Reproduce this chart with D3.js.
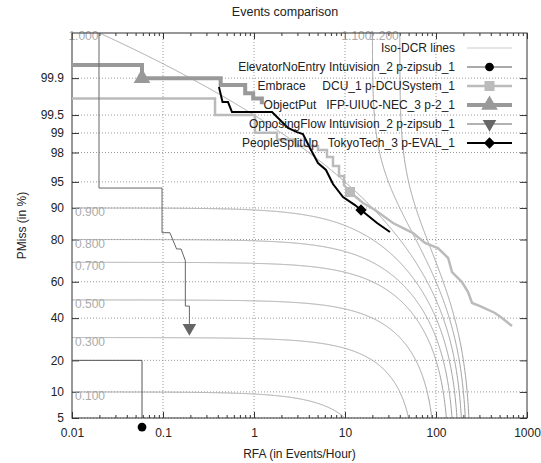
<!DOCTYPE html>
<html>
<head>
<meta charset="utf-8">
<script src="https://cdn.jsdelivr.net/npm/d3@7"></script>
<style>
  body { margin: 0; background: #fff; }
  text { font-family: "Liberation Sans", Arial, sans-serif; }
</style>
</head>
<body>
<svg id="chart"></svg>
<script>
// ---- data ----
const xTickValues = [0.01, 0.1, 1, 10, 100, 1000];
const xTickLabels = ["0.01", "0.1", "1", "10", "100", "1000"];
const yTickValues = [5, 10, 20, 40, 60, 80, 90, 95, 98, 99, 99.5, 99.9];
const yTickLabels = ["5", "10", "20", "40", "60", "80", "90", "95", "98", "99", "99.5", "99.9"];

// iso-DCR lines: PMiss + beta * RFA = DCR
const isoDcrValues = [0.1, 0.3, 0.5, 0.7, 0.8, 0.9, 1.0, 1.1, 1.2];
const isoBeta = 0.005;

const elevatorRfa   = [0.005, 0.0588, 0.0588];
const elevatorPmiss = [20, 20, 3.83];

const embraceRfa   = [0.005, 0.373, 0.373, 1.026, 1.026, 1.79, 1.79, 2.89, 2.89, 5.05, 5.05, 6.34, 6.34, 7.38, 7.38, 8.59, 8.59, 9.75, 9.75, 11.35, 15.8, 21.4, 33.7, 55.9, 75.7, 105, 136, 150, 193, 225, 249, 305, 445, 531, 684];
const embracePmiss = [99.75, 99.75, 99.5, 99.5, 99.01, 99.01, 98.73, 98.73, 98.40, 98.40, 98.16, 98.16, 97.68, 97.68, 96.90, 96.90, 95.78, 95.78, 94.53, 93.37, 91.15, 89.49, 85.81, 82.43, 78.61, 76.52, 72.04, 65.14, 59.87, 54.38, 48.3, 46.6, 42.8, 40.05, 35.8];

const objectRfa   = [0.005, 0.0588, 0.0588, 0.43, 0.43, 0.80, 0.80, 0.98, 0.98, 1.22, 1.22];
const objectPmiss = [99.947, 99.947, 99.90, 99.90, 99.862, 99.862, 99.80, 99.80, 99.75, 99.75, 99.68];

const opposingRfa   = [0.0198, 0.0198, 0.0976, 0.0976, 0.119, 0.141, 0.158, 0.176, 0.176, 0.195, 0.195];
const opposingPmiss = [99.999, 94.05, 94.05, 82.56, 82.56, 76.11, 76.11, 70.75, 46.6, 46.6, 34.8];

const peopleRfa   = [0.412, 0.451, 0.518, 0.573, 1.578, 1.746, 2.364, 2.97, 3.45, 4.12, 5.05, 6.18, 7.38, 9.51, 12.88, 15.0, 22.5, 31.2];
const peoplePmiss = [99.849, 99.708, 99.708, 99.558, 99.558, 99.48, 99.17, 99.03, 98.96, 98.29, 97.18, 96.49, 94.68, 92.42, 90.69, 89.49, 85.81, 82.8];

const seriesLabels = [
  "ElevatorNoEntry Intuvision_2 p-zipsub_1",
  "Embrace     DCU_1 p-DCUSystem_1",
  "ObjectPut   IFP-UIUC-NEC_3 p-2_1",
  "OpposingFlow Intuvision_2 p-zipsub_1",
  "PeopleSplitUp   TokyoTech_3 p-EVAL_1"
];

// ---- helpers ----
// inverse normal CDF (Acklam)
function probit(p) {
  const a = [-3.969683028665376e+01, 2.209460984245205e+02, -2.759285104469687e+02, 1.383577518672690e+02, -3.066479806614716e+01, 2.506628277459239e+00];
  const b = [-5.447609879822406e+01, 1.615858368580409e+02, -1.556989798598866e+02, 6.680131188771972e+01, -1.328068155288572e+01];
  const c = [-7.784894002430293e-03, -3.223964580411365e-01, -2.400758277161838e+00, -2.549732539343734e+00, 4.374664141464968e+00, 2.938163982698783e+00];
  const d = [7.784695709041462e-03, 3.224671290700398e-01, 2.445134137142996e+00, 3.754408661907416e+00];
  const pl = 0.02425;
  let q, r;
  if (p < pl) {
    q = Math.sqrt(-2 * Math.log(p));
    return (((((c[0]*q+c[1])*q+c[2])*q+c[3])*q+c[4])*q+c[5]) / ((((d[0]*q+d[1])*q+d[2])*q+d[3])*q+1);
  }
  if (p <= 1 - pl) {
    q = p - 0.5; r = q * q;
    return (((((a[0]*r+a[1])*r+a[2])*r+a[3])*r+a[4])*r+a[5])*q / (((((b[0]*r+b[1])*r+b[2])*r+b[3])*r+b[4])*r+1);
  }
  q = Math.sqrt(-2 * Math.log(1 - p));
  return -(((((c[0]*q+c[1])*q+c[2])*q+c[3])*q+c[4])*q+c[5]) / ((((d[0]*q+d[1])*q+d[2])*q+d[3])*q+1);
}

const margin = {top: 33, right: 14, bottom: 45, left: 72};
const width = 541 - margin.left - margin.right;
const height = 463 - margin.top - margin.bottom;

const svg = d3.select("#chart").attr("width", 541).attr("height", 463);

const x = d3.scaleLog().domain([0.01, 1000]).range([0, width]);
const zScale = d3.scaleLinear().domain([probit(0.05), probit(0.9999)]).range([height, 0]);
const y = pct => zScale(probit(pct / 100));

const g = svg.append("g").attr("transform", `translate(${margin.left},${margin.top})`);

g.append("defs").append("clipPath").attr("id", "clip")
  .append("rect").attr("width", width).attr("height", height);

// grid
const gridColor = "#999";
g.append("g").selectAll("line").data(xTickValues.slice(1, -1)).join("line")
  .attr("x1", d => x(d)).attr("x2", d => x(d)).attr("y1", 0).attr("y2", height)
  .attr("stroke", gridColor).attr("stroke-dasharray", "1,2");
g.append("g").selectAll("line").data(yTickValues).join("line")
  .attr("x1", 0).attr("x2", width).attr("y1", d => y(d)).attr("y2", d => y(d))
  .attr("stroke", gridColor).attr("stroke-dasharray", "1,2");

// axes
const minorTicks = [];
xTickValues.slice(0, -1).forEach(t => { for (let k = 2; k <= 9; k++) minorTicks.push(t * k); });

function styleAxis(sel) {
  sel.select(".domain").remove();
  sel.selectAll("line").attr("stroke", "#333");
  sel.selectAll("text").attr("font-size", 12).attr("fill", "#222")
    .attr("font-family", '"Liberation Sans", Arial, sans-serif');
}

g.append("g").attr("transform", `translate(0,${height})`)
  .call(d3.axisBottom(x).tickValues(xTickValues).tickFormat((d, i) => xTickLabels[i]).tickSize(-6).tickPadding(10))
  .call(styleAxis);
g.append("g").attr("transform", `translate(0,${height})`)
  .call(d3.axisBottom(x).tickValues(minorTicks).tickFormat("").tickSize(-3))
  .call(styleAxis);
g.append("g")
  .call(d3.axisTop(x).tickValues(xTickValues).tickFormat("").tickSize(-6))
  .call(styleAxis);
g.append("g")
  .call(d3.axisTop(x).tickValues(minorTicks).tickFormat("").tickSize(-3))
  .call(styleAxis);
g.append("g")
  .call(d3.axisLeft(zScale).tickValues(yTickValues.map(v => probit(v / 100))).tickFormat((d, i) => yTickLabels[i]).tickSize(-7).tickPadding(8))
  .call(styleAxis);
g.append("g").attr("transform", `translate(${width},0)`)
  .call(d3.axisRight(zScale).tickValues(yTickValues.map(v => probit(v / 100))).tickFormat("").tickSize(-7))
  .call(styleAxis);

// iso-DCR lines
function isoPoints(dcr) {
  const rs = [];
  for (let i = 0; i <= 3000; i++) rs.push(Math.pow(10, -3 + i * 6.5 / 3000));
  for (let k = 1; k <= 7; k += 0.02) rs.push((dcr - (1 - Math.pow(10, -k))) / isoBeta);
  return rs.filter(r => r > 0)
    .map(r => [r, dcr - isoBeta * r])
    .filter(d => d[1] > 1e-6 && d[1] < 1 - 1e-7)
    .sort((a, b) => a[0] - b[0]);
}
const isoLine = d3.line().x(d => x(d[0])).y(d => zScale(probit(d[1])));
const isoG = g.append("g").attr("clip-path", "url(#clip)");
isoDcrValues.forEach(dcr => {
  isoG.append("path").attr("d", isoLine(isoPoints(dcr)))
    .attr("fill", "none").attr("stroke", "#a0a0a0").attr("stroke-width", 1);
});
g.append("g").selectAll("text").data(isoDcrValues).join("text")
  .attr("x", d => d < 1 ? 3 : x((d - 0.9999) / isoBeta) - 1)
  .attr("y", d => d < 1 ? zScale(probit(d)) + 8 : 7)
  .attr("text-anchor", d => d < 1 ? "start" : "end")
  .attr("font-size", 12).attr("fill", "#aaa")
  .text(d => d.toFixed(3));

// border
g.append("rect").attr("width", width).attr("height", height)
  .attr("fill", "none").attr("stroke", "#333");

// series
const series = [
  {label: seriesLabels[0], rfa: elevatorRfa, pmiss: elevatorPmiss, color: "#555", w: 1, sym: "circle", mark: 2},
  {label: seriesLabels[1], rfa: embraceRfa, pmiss: embracePmiss, color: "#bbb", w: 2.5, sym: "square", mark: 19},
  {label: seriesLabels[2], rfa: objectRfa, pmiss: objectPmiss, color: "#999", w: 4, sym: "triangle", mark: 2},
  {label: seriesLabels[3], rfa: opposingRfa, pmiss: opposingPmiss, color: "#666", w: 1, sym: "down", mark: 10},
  {label: seriesLabels[4], rfa: peopleRfa, pmiss: peoplePmiss, color: "#000", w: 2, sym: "diamond", mark: 15}
];
const markColor = {circle: "#000", square: "#bbb", triangle: "#999", down: "#666", diamond: "#000"};

const shapes = {
  circle: [d3.symbolCircle, 60, 0],
  square: [d3.symbolSquare, 100, 0],
  triangle: [d3.symbolTriangle, 120, 0],
  down: [d3.symbolTriangle, 80, 180],
  diamond: [d3.symbolSquare, 64, 45]
};
function marker(sel, sym) {
  const s = shapes[sym];
  sel.append("path").attr("d", d3.symbol().type(s[0]).size(s[1])())
    .attr("fill", markColor[sym])
    .attr("transform", `rotate(${s[2]})`);
}

// legend
const legend = svg.append("g");
const legendRows = ["Iso-DCR lines"].concat(seriesLabels);
legendRows.forEach((lab, i) => {
  const ly = 48 + i * 19;
  legend.append("text").attr("x", 455).attr("y", ly).attr("dy", "0.35em")
    .attr("text-anchor", "end").attr("font-size", 12).attr("fill", "#222")
    .style("white-space", "pre").text(lab);
  if (i === 0) {
    legend.append("line").attr("x1", 467).attr("x2", 512).attr("y1", ly).attr("y2", ly)
      .attr("stroke", "#ccc").attr("stroke-width", 1);
  } else {
    const s = series[i - 1];
    legend.append("line").attr("x1", 467).attr("x2", 512).attr("y1", ly).attr("y2", ly)
      .attr("stroke", s.color).attr("stroke-width", s.w);
    marker(legend.append("g").attr("transform", `translate(489.5,${ly})`), s.sym);
  }
});

const line = d3.line().x(d => x(d[0])).y(d => y(d[1]));
const linesG = g.append("g").attr("clip-path", "url(#clip)");
series.forEach(s => {
  const pts = s.rfa.map((r, i) => [r, s.pmiss[i]]);
  linesG.append("path").attr("d", line(pts))
    .attr("fill", "none").attr("stroke", s.color).attr("stroke-width", s.w);
  marker(g.append("g")
    .attr("transform", `translate(${x(s.rfa[s.mark])},${y(s.pmiss[s.mark])})`), s.sym);
});

// titles
svg.append("text").attr("x", 285).attr("y", 16)
  .attr("text-anchor", "middle").attr("font-size", 12.5).attr("fill", "#222")
  .text("Events comparison");
svg.append("text").attr("x", margin.left + width / 2).attr("y", 458)
  .attr("text-anchor", "middle").attr("font-size", 12).attr("fill", "#222")
  .text("RFA (in Events/Hour)");
svg.append("text").attr("transform", `translate(26,${margin.top + height / 2}) rotate(-90)`)
  .attr("text-anchor", "middle").attr("font-size", 12).attr("fill", "#222")
  .text("PMiss (in %)");
</script>
</body>
</html>
